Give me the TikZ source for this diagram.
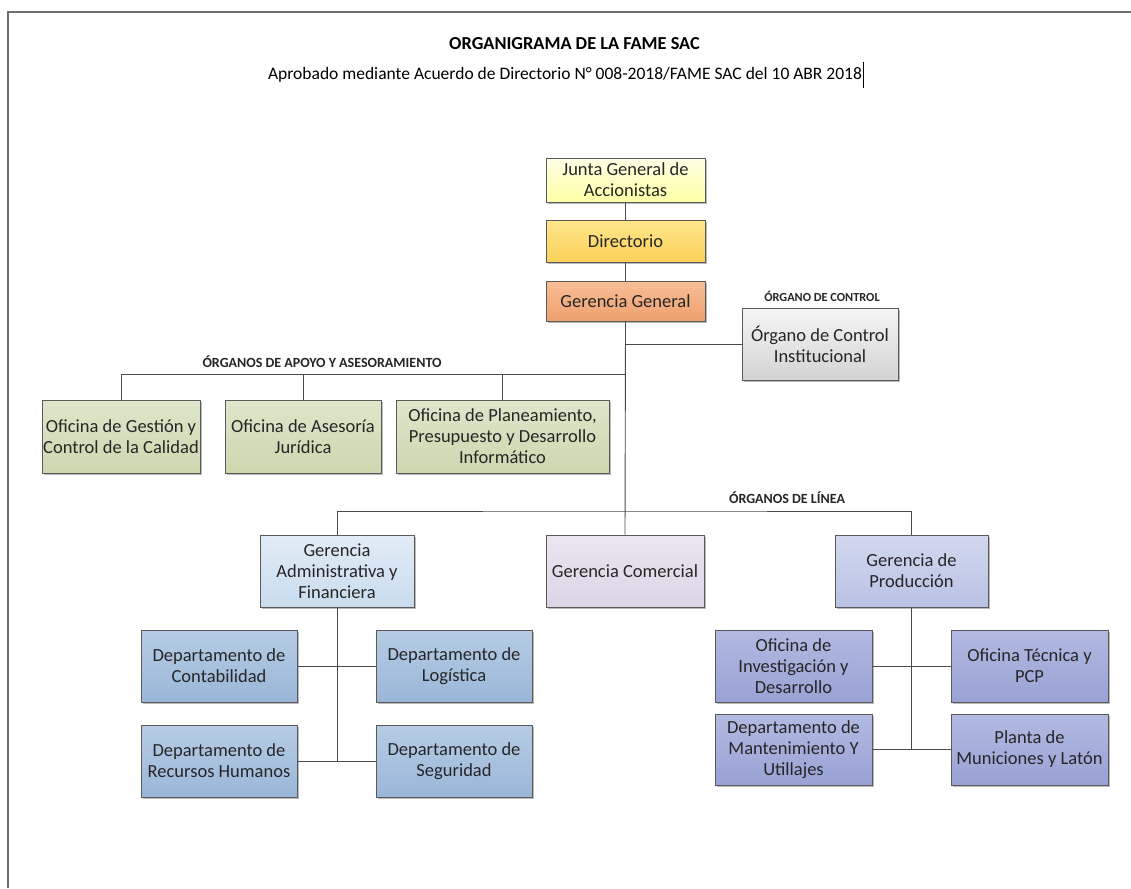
\documentclass[tikz,border=0pt]{standalone}
\usepackage{fontspec}
\setmainfont{Carlito}
\usetikzlibrary{shadows}
\definecolor{bordc}{HTML}{5A5A5A}
\definecolor{linec}{HTML}{4A4A4A}
\definecolor{framec}{HTML}{6E6E6E}
\tikzset{
  box/.style={draw=bordc, line width=1pt, align=center, inner xsep=0pt, inner ysep=2pt,
    font=\fontsize{18.5}{21}\selectfont, text=black!85,
    drop shadow={shadow xshift=1.6pt, shadow yshift=-1.6pt, opacity=.45, fill=black!60}},
  conn/.style={draw=linec, line width=0.9pt},
  grp/.style={font=\bfseries\fontsize{14}{16}\selectfont, text=black!85},
}
\begin{document}
\begin{tikzpicture}[x=1pt,y=-1pt]
\useasboundingbox (0,0) rectangle (1131,888);
\fill[white] (0,0) rectangle (1131,888);
% frame
\draw[framec, line width=1.4pt] (8,888) -- (8,12) -- (1131,12);
% titles
\node (title) at (574.5,44) {\bfseries\fontsize{18.3}{21}\selectfont ORGANIGRAMA DE LA FAME SAC};
\node (sub) at (565,75) {\fontsize{17.5}{20}\selectfont Aprobado mediante Acuerdo de Directorio N° 008-2018/FAME SAC del 10 ABR 2018};
\coordinate (curA) at ([xshift=-2pt,yshift=13pt]sub.east);
\coordinate (curB) at ([xshift=-2pt,yshift=-13pt]sub.east);
\draw[black, line width=0.6pt] (curA) -- (curB);

% top chain
\node[box, minimum width=159pt, minimum height=44pt, top color=yellow!10, bottom color=yellow!35] (junta) at (625.5,180) {Junta General de\\Accionistas};
\node[box, minimum width=159pt, minimum height=42pt, top color={rgb,255:red,255;green,230;blue,140}, bottom color={rgb,255:red,251;green,208;blue,88}] (dir) at (625.5,241) {Directorio};
\node[box, minimum width=159pt, minimum height=40pt, top color={rgb,255:red,248;green,190;blue,150}, bottom color={rgb,255:red,238;green,160;blue,110}] (gg) at (625.5,301) {Gerencia General};

% control
\node[box, minimum width=156pt, minimum height=72pt, top color=black!4, bottom color=black!17] (ctrl) at (820,344) {Órgano de Control\\Institucional};
\node[grp, font=\bfseries\fontsize{12.3}{14}\selectfont] (ctrllbl) at (822,296) {ÓRGANO DE CONTROL};

% apoyo boxes
\tikzset{apoyo/.style={box, minimum height=73pt, top color={rgb,255:red,222;green,230;blue,203}, bottom color={rgb,255:red,205;green,215;blue,175}}}
\node[apoyo, minimum width=158pt] (gest) at (121,436.5) {Oficina de Gestión y\\Control de la Calidad};
\node[apoyo, minimum width=156pt] (jur) at (303,436.5) {Oficina de Asesoría\\Jurídica};
\node[apoyo, minimum width=213pt] (plan) at (502.5,436.5) {Oficina de Planeamiento,\\Presupuesto y Desarrollo\\Informático};
\node[grp] (apoyolbl) at (322,362) {ÓRGANOS DE APOYO Y ASESORAMIENTO};

% line level
\node[box, minimum width=154pt, minimum height=72pt, top color={rgb,255:red,226;green,236;blue,246}, bottom color={rgb,255:red,200;green,220;blue,238}] (gaf) at (337,571) {Gerencia\\Administrativa y\\Financiera};
\node[box, minimum width=158pt, minimum height=72pt, top color={rgb,255:red,234;green,230;blue,240}, bottom color={rgb,255:red,220;green,212;blue,230}] (gcom) at (625,571) {Gerencia Comercial};
\node[box, minimum width=153pt, minimum height=72pt, top color={rgb,255:red,210;green,216;blue,238}, bottom color={rgb,255:red,185;green,194;blue,228}] (gprod) at (911.5,571) {Gerencia de\\Producción};
\node[grp] (linealbl) at (787,498) {ÓRGANOS DE LÍNEA};

% admin departments
\tikzset{adep/.style={box, minimum width=156pt, minimum height=72pt, top color={rgb,255:red,182;green,204;blue,228}, bottom color={rgb,255:red,154;green,182;blue,216}}}
\node[adep] (cont) at (219,666) {Departamento de\\Contabilidad};
\node[adep] (log) at (454,666) {Departamento de\\Logística};
\node[adep] (rrhh) at (219,761) {Departamento de\\Recursos Humanos};
\node[adep] (seg) at (454,761) {Departamento de\\Seguridad};

% production departments
\tikzset{pdep/.style={box, minimum width=157pt, minimum height=72pt, top color={rgb,255:red,178;green,186;blue,226}, bottom color={rgb,255:red,152;green,162;blue,212}}}
\node[pdep] (inv) at (793.5,666) {Oficina de\\Investigación y\\Desarrollo};
\node[pdep] (tec) at (1029.5,666) {Oficina Técnica y\\PCP};
\node[pdep, minimum height=71pt] (mant) at (793.5,749.5) {Departamento de\\Mantenimiento Y\\Utillajes};
\node[pdep, minimum height=71pt] (planta) at (1029.5,749.5) {Planta de\\Municiones y Latón};

% connectors
\coordinate (cctrl) at (gg.south |- ctrl.west);
\coordinate (capoyo) at (625.5,374);
\coordinate (clinea) at (625.5,511);
\draw[conn] (junta) -- (dir);
\draw[conn] (dir) -- (gg);
\draw[conn] (gg.south) -- (gcom.north);
\draw[conn] (cctrl) -- (ctrl.west);
\draw[conn] (capoyo) -| (gest.north);
\draw[conn] (capoyo -| jur.north) -- (jur.north);
\draw[conn] (capoyo -| plan.north) -- (plan.north);
\draw[conn] (gaf.north) |- (clinea) -| (gprod.north);
% admin spine
\coordinate (aend) at (gaf.south |- rrhh.east);
\draw[conn] (gaf.south) -- (aend);
\draw[conn] (cont.east) -- (log.west);
\draw[conn] (rrhh.east) -- (seg.west);
% production spine
\coordinate (pend) at (gprod.south |- mant.east);
\draw[conn] (gprod.south) -- (pend);
\draw[conn] (inv.east) -- (tec.west);
\draw[conn] (mant.east) -- (planta.west);
\end{tikzpicture}
\end{document}
